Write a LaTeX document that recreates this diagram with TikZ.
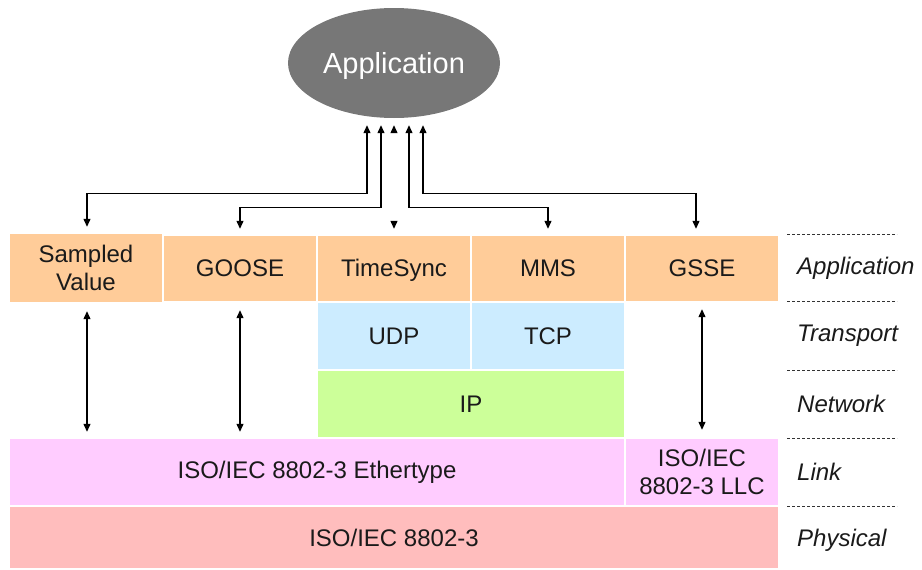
\documentclass[tikz,border=0pt]{standalone}
\usepackage{fontspec}
\setmainfont{Liberation Sans}
\usetikzlibrary{arrows.meta,shapes.geometric}

\definecolor{appfill}{HTML}{FFCC99}
\definecolor{trnfill}{HTML}{CCECFF}
\definecolor{netfill}{HTML}{CCFF99}
\definecolor{lnkfill}{HTML}{FFCCFF}
\definecolor{phyfill}{HTML}{FFBDBD}
\definecolor{ellfill}{HTML}{777777}
\definecolor{inktext}{HTML}{1A1A1A}

\begin{document}
\begin{tikzpicture}[x=1pt,y=-1pt,
  layerbox/.style={inner sep=0pt, align=center, text=inktext,
    font=\fontsize{24}{28}\selectfont},
  biarrow/.style={line width=1.2pt, {Triangle[length=8pt,width=7pt]}-{Triangle[length=8pt,width=7pt]}},
  ghostarrow/.style={draw=white, line width=1.2pt,
    {Triangle[length=8pt,width=7pt,black]}-{Triangle[length=8pt,width=7pt,black]}},
  sepline/.style={line width=0.9pt, dash pattern=on 3pt off 2pt, black!80},
  layername/.style={anchor=west, inner sep=0pt, text=inktext,
    font=\fontsize{24}{28}\selectfont\itshape}]
\useasboundingbox (0,0) rectangle (922,570);

% top-level application
\node[ellipse, fill=ellfill, minimum width=212pt, minimum height=110pt,
      text=white, text depth=0pt, font=\fontsize{29}{34}\selectfont] (app) at (394,63) {Application};

% application layer
\node[layerbox, fill=appfill, minimum width=152pt, minimum height=68pt] (sv) at (86,268) {Sampled\\Value};
\node[layerbox, fill=appfill, minimum width=152pt, minimum height=65pt] (goose) at (240,268.5) {GOOSE};
\node[layerbox, fill=appfill, minimum width=152pt, minimum height=65pt, text depth=2pt] (ts) at (394,268.5) {TimeSync};
\node[layerbox, fill=appfill, minimum width=152pt, minimum height=65pt] (mms) at (548,268.5) {MMS};
\node[layerbox, fill=appfill, minimum width=152pt, minimum height=65pt] (gsse) at (702,268.5) {GSSE};

% transport and network
\node[layerbox, fill=trnfill, minimum width=152pt, minimum height=66pt] (udp) at (394,336) {UDP};
\node[layerbox, fill=trnfill, minimum width=152pt, minimum height=66pt] (tcp) at (548,336) {TCP};
\node[layerbox, fill=netfill, minimum width=306pt, minimum height=66pt] (ip) at (471,404) {IP};

% link and physical
\node[layerbox, fill=lnkfill, minimum width=614pt, minimum height=66pt] (eth) at (317,472) {ISO/IEC 8802-3 Ethertype};
\node[layerbox, fill=lnkfill, minimum width=152pt, minimum height=66pt] (llc) at (702,472) {ISO/IEC\\8802-3 LLC};
\node[layerbox, fill=phyfill, minimum width=768pt, minimum height=61pt] (phy) at (394,537.5) {ISO/IEC 8802-3};

% connectors between the application and the protocols
\draw[biarrow] ([xshift=-27pt,yshift=-7pt]app.south) -- ++(0,68) -| ([xshift=1pt,yshift=7pt]sv.north);
\draw[biarrow] ([xshift=-13pt,yshift=-7pt]app.south) -- ++(0,82) -| ([yshift=7pt]goose.north);
\draw[ghostarrow] ([yshift=-7pt]app.south) -- ([yshift=7pt]ts.north);
\draw[biarrow] ([xshift=15pt,yshift=-7pt]app.south) -- ++(0,82) -| ([yshift=7pt]mms.north);
\draw[biarrow] ([xshift=29pt,yshift=-7pt]app.south) -- ++(0,68) -| ([xshift=-6pt,yshift=7pt]gsse.north);

% direct mappings onto the link layer
\draw[biarrow, shorten <=9pt, shorten >=7pt] ([xshift=1pt]sv.south) -- ([xshift=1pt]sv.south |- eth.north);
\draw[biarrow, shorten <=9pt, shorten >=7pt] (goose.south) -- (goose.south |- eth.north);
\draw[biarrow, shorten <=8pt, shorten >=9pt] (gsse.south) -- (llc.north);

% layer separators and names
\foreach \yy in {234,301,370,438,506}
  \draw[sepline] (787,\yy) -- (897,\yy);
\node[layername] (lapp) at (797,268) {Application};
\node[layername] (ltrn) at (797,336) {Transport};
\node[layername] (lnet) at (797,404) {Network};
\node[layername] (llnk) at (797,472) {Link};
\node[layername] (lphy) at (797,540) {Physical};
\end{tikzpicture}
\end{document}
